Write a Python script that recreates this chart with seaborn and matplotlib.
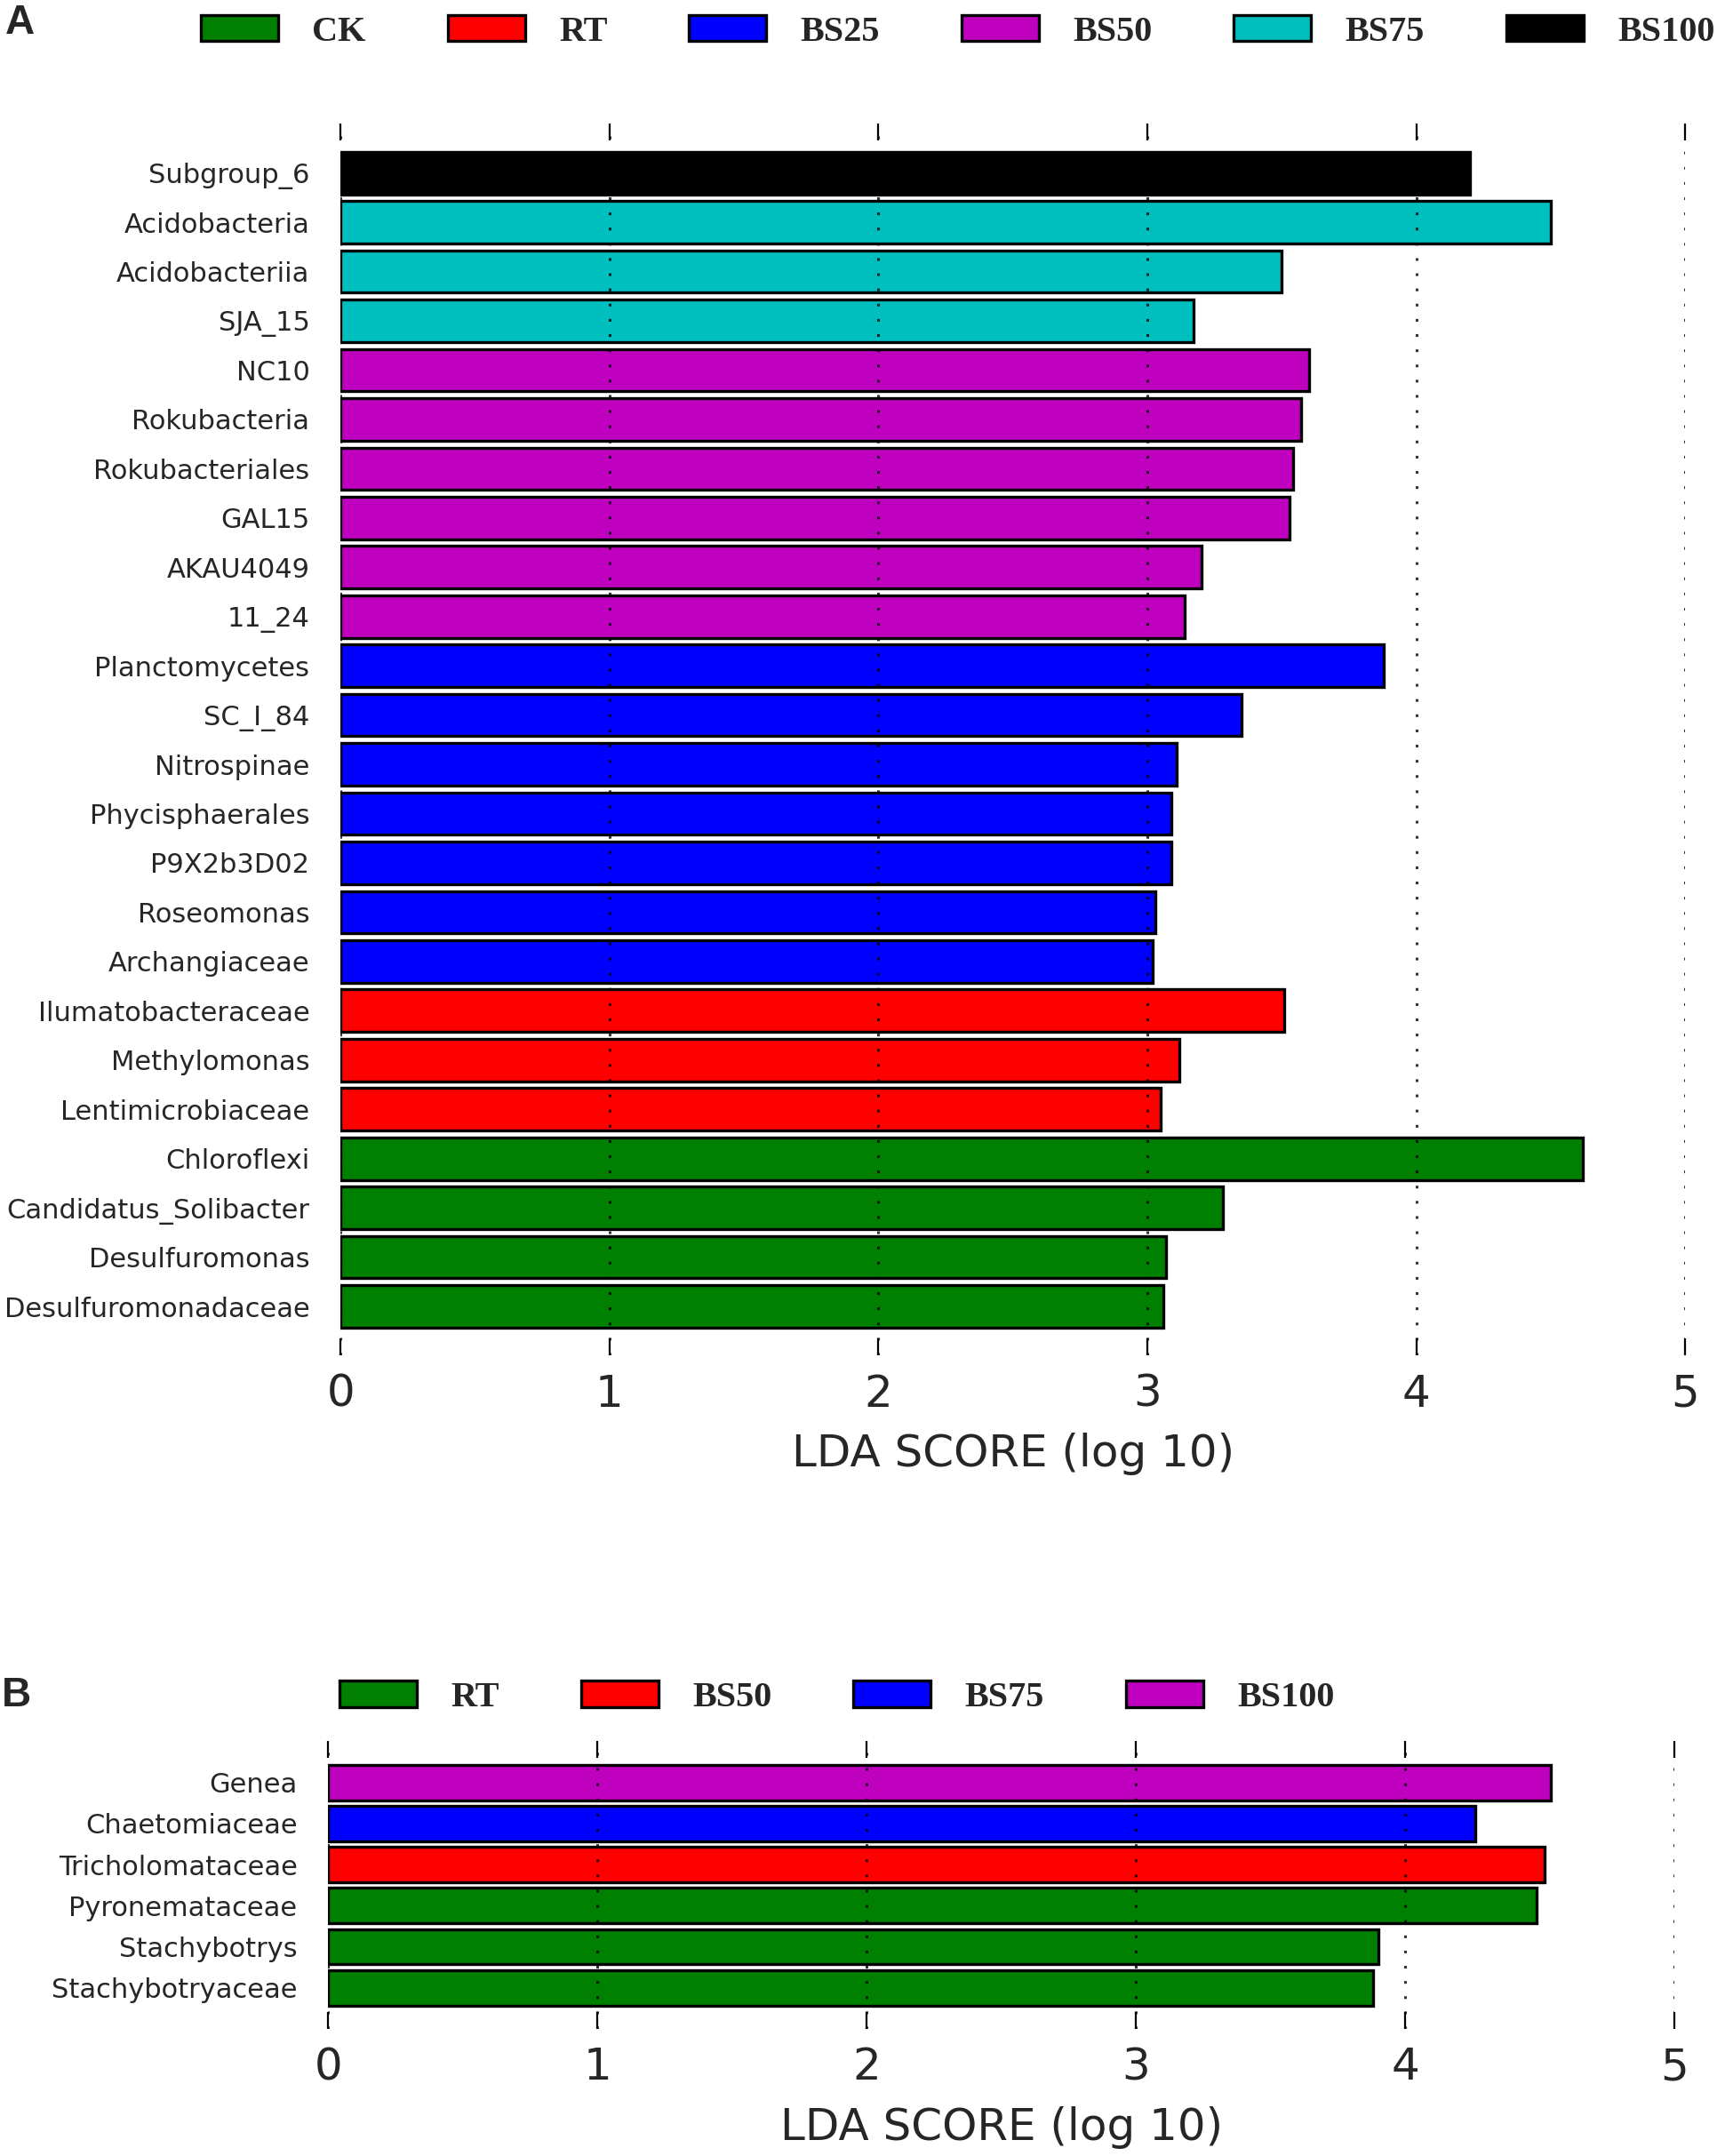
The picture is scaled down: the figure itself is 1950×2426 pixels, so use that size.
import numpy as np
import pandas as pd
import matplotlib
matplotlib.use("Agg")
import matplotlib.pyplot as plt
from matplotlib.patches import Patch
from matplotlib.font_manager import FontProperties
import seaborn as sns

# ---------------- data ----------------
names_a = ["Subgroup_6", "Acidobacteria", "Acidobacteriia", "SJA_15", "NC10",
           "Rokubacteria", "Rokubacteriales", "GAL15", "AKAU4049", "11_24",
           "Planctomycetes", "SC_I_84", "Nitrospinae", "Phycisphaerales",
           "P9X2b3D02", "Roseomonas", "Archangiaceae", "Ilumatobacteraceae",
           "Methylomonas", "Lentimicrobiaceae", "Chloroflexi",
           "Candidatus_Solibacter", "Desulfuromonas", "Desulfuromonadaceae"]
groups_a = ["BS100", "BS75", "BS75", "BS75", "BS50", "BS50", "BS50", "BS50",
            "BS50", "BS50", "BS25", "BS25", "BS25", "BS25", "BS25", "BS25",
            "BS25", "RT", "RT", "RT", "CK", "CK", "CK", "CK"]
scores_a = [4.20, 4.50, 3.50, 3.17, 3.60, 3.57, 3.54, 3.53, 3.20, 3.14,
            3.88, 3.35, 3.11, 3.09, 3.09, 3.03, 3.02, 3.51, 3.12, 3.05,
            4.62, 3.28, 3.07, 3.06]
classes_a = ["CK", "RT", "BS25", "BS50", "BS75", "BS100"]
colors_a = ["#008000", "#FF0000", "#0000FF", "#BF00BF", "#00BFBF", "#000000"]

names_b = ["Genea", "Chaetomiaceae", "Tricholomataceae", "Pyronemataceae",
           "Stachybotrys", "Stachybotryaceae"]
groups_b = ["BS100", "BS75", "BS50", "RT", "RT", "RT"]
scores_b = [4.54, 4.26, 4.52, 4.49, 3.90, 3.88]
classes_b = ["RT", "BS50", "BS75", "BS100"]
colors_b = ["#008000", "#FF0000", "#0000FF", "#BF00BF"]

xticks = [0, 1, 2, 3, 4, 5]
xlabel = "LDA SCORE (log 10)"

# ---------------- style ----------------
sns.set_style("white")
plt.rcParams["font.family"] = ["DejaVu Sans"]

fig = plt.figure(figsize=(19.5, 24.26), dpi=100)

legend_font = FontProperties(family="Liberation Serif", weight="bold", size=29)


def draw_panel(ax, names, groups, scores, classes, colors):
    df = pd.DataFrame({"name": names, "group": groups, "score": scores})
    sns.barplot(data=df, x="score", y="name", hue="group", order=names,
                hue_order=classes, palette=dict(zip(classes, colors)),
                dodge=False, width=0.86, saturation=1, edgecolor="black",
                linewidth=2.4, legend=False, orient="h", ax=ax)
    n = len(names)
    ax.set_xlim(xticks[0], xticks[-1])
    ax.set_ylim(n, -1)
    ax.set_xticks(xticks)
    ax.set_xticklabels([str(t) for t in xticks])
    for s in ax.spines.values():
        s.set_visible(False)
    ax.set_axisbelow(False)
    ax.grid(axis="x", color="black", alpha=0.8, linewidth=2.2,
            linestyle=(0, (1.0, 4.6)))
    ax.grid(axis="y", visible=False)
    ax.tick_params(axis="x", direction="in", length=14, width=1.6,
                   top=True, bottom=True, labeltop=False, labelbottom=True,
                   labelsize=36, pad=14, color="black")
    ax.tick_params(axis="y", length=0, labelsize=22, pad=25)
    ax.set_xlabel(xlabel, fontsize=36, labelpad=14)
    ax.set_ylabel("")
    ax.set_facecolor("white")


# Panel A
ax_a = fig.add_axes([0.1965, 0.3712, 0.9725 - 0.1965, 0.9426 - 0.3712])
draw_panel(ax_a, names_a, groups_a, scores_a, classes_a, colors_a)

# Panel B
ax_b = fig.add_axes([0.1894, 0.0590, 0.9661 - 0.1894, 0.1923 - 0.0590])
draw_panel(ax_b, names_b, groups_b, scores_b, classes_b, colors_b)

# Legends
def make_legend(classes, colors, anchor):
    handles = [Patch(facecolor=c, edgecolor="black", linewidth=2.4)
               for c in colors]
    fig.legend(handles, classes, loc="center left", bbox_to_anchor=anchor,
               bbox_transform=fig.transFigure, ncol=len(classes),
               frameon=False, borderpad=0, borderaxespad=0,
               handlelength=2.16, handleheight=0.74, handletextpad=0.95,
               columnspacing=2.28, prop=legend_font)

make_legend(classes_a, colors_a, (0.1160, 0.9852))
make_legend(classes_b, colors_b, (0.1960, 0.2126))

# Panel letters
fig.text(0.003, 0.9843, "A", fontsize=33, fontweight="bold",
         family="Liberation Sans", ha="left", va="baseline")
fig.text(0.001, 0.2086, "B", fontsize=33, fontweight="bold",
         family="Liberation Sans", ha="left", va="baseline")

fig.savefig("out.png", dpi=100, facecolor="white")
